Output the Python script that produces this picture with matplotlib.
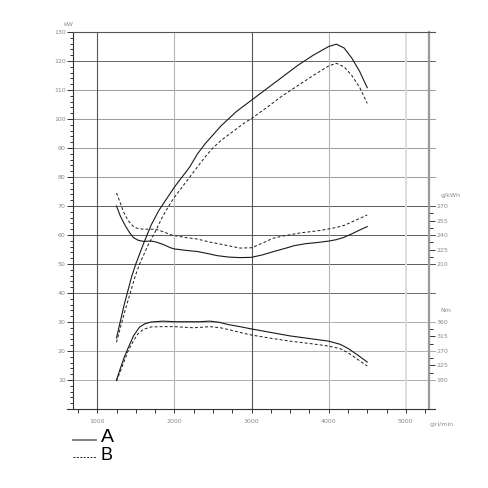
import matplotlib
matplotlib.use("Agg")
import matplotlib.pyplot as plt
from matplotlib.lines import Line2D
import numpy as np

# ---- data (left axis units, rpm) ----
power_rpm_a = [1250, 1350, 1450, 1500, 1600, 1700, 1800, 1900, 2000, 2100, 2200, 2300, 2400,
               2500, 2600, 2700, 2800, 2900, 3000, 3200, 3400, 3600, 3800, 4000, 4100, 4200,
               4300, 4400, 4500]
power_a = [24.5, 36, 46, 50, 57, 63.5, 68.5, 72.5, 76.5, 80, 83.5, 88, 91.5,
           94.5, 97.5, 100, 102.5, 104.5, 106.5, 110.5, 114.5, 118.5, 122, 125, 125.8, 124.5,
           121, 116.5, 110.8]

power_rpm_b = [1250, 1350, 1450, 1500, 1550, 1650, 1750, 1850, 1950, 2000, 2100, 2200, 2300,
               2400, 2500, 2600, 2700, 2800, 2900, 3000, 3200, 3400, 3600, 3800, 4000, 4100,
               4200, 4300, 4400, 4500]
power_b = [23, 33, 42, 46.4, 50, 56, 61, 66.5, 71, 73, 76.5, 80, 83.5,
           87, 90, 92.5, 94.5, 96.5, 98.5, 100.2, 104, 108, 111.5, 115, 118.3, 119.2,
           118, 115, 111, 105.4]

bsfc_rpm_a = [1250, 1300, 1360, 1420, 1470, 1530, 1600, 1700, 1760, 1850, 1950, 2000, 2150,
              2300, 2450, 2550, 2700, 2850, 3000, 3150, 3300, 3450, 3550, 3700, 3850, 4000,
              4100, 4200, 4300, 4400, 4500]
bsfc_a = [70, 66.5, 63.4, 60.8, 59.1, 58.2, 57.8, 57.9, 57.6, 56.8, 55.6, 55.2, 54.7,
          54.3, 53.5, 52.9, 52.4, 52.2, 52.3, 53.2, 54.4, 55.5, 56.3, 57.0, 57.4, 57.9,
          58.4, 59.2, 60.4, 61.7, 62.9]

bsfc_rpm_b = [1250, 1300, 1340, 1400, 1470, 1530, 1600, 1750, 1850, 1950, 2000, 2150, 2300,
              2450, 2550, 2700, 2850, 3000, 3150, 3280, 3400, 3500, 3650, 3750, 3900, 4000,
              4100, 4200, 4300, 4400, 4500]
bsfc_b = [74.5, 71, 68, 65, 62.9, 62.2, 62.0, 62.0, 61.2, 60.1, 59.8, 59.1, 58.6,
          57.6, 57.1, 56.3, 55.5, 55.6, 57.3, 58.9, 59.6, 60.1, 60.8, 61.1, 61.6, 62.1,
          62.6, 63.3, 64.5, 65.7, 66.9]

torque_rpm_a = [1250, 1300, 1350, 1400, 1470, 1550, 1620, 1700, 1850, 2000, 2200, 2330, 2460,
                2580, 2700, 2850, 3000, 3250, 3500, 3750, 4000, 4150, 4250, 4350, 4500]
torque_a = [10, 14, 17.8, 21, 25.2, 28.3, 29.4, 30.0, 30.3, 30.1, 30.1, 30.1, 30.3,
            29.9, 29.1, 28.4, 27.6, 26.4, 25.2, 24.3, 23.4, 22.3, 20.9, 19.1, 16.2]

torque_rpm_b = [1250, 1300, 1350, 1400, 1470, 1530, 1600, 1700, 1850, 2000, 2250, 2460, 2600,
                2700, 2850, 3000, 3250, 3500, 3750, 4000, 4150, 4250, 4350, 4500]
torque_b = [9.6, 13, 16.5, 20, 23.5, 26.0, 27.5, 28.3, 28.4, 28.4, 28.0, 28.4, 28.0,
            27.4, 26.4, 25.5, 24.4, 23.4, 22.6, 21.7, 20.8, 19.4, 17.6, 14.8]

kw_ticks = list(range(10, 140, 10))
rpm_ticks = [1000, 2000, 3000, 4000, 5000]
gkwh_ticks = [210, 225, 240, 255, 270]
nm_ticks = [180, 225, 270, 315, 360]
series_labels = ["A", "B"]

# ---- figure ----
fig = plt.figure(figsize=(4.88, 4.88), dpi=100)
ax = fig.add_axes([0.1502, 0.1619, 0.7288, 0.7725])
ax.set_xlim(690, 5300)
ax.set_ylim(0, 130)

lbl_col = "#8a8a8a"
fs = 4.5

# grid
hcol = {130: "#555555", 120: "#666666", 110: "#9a9a9a", 100: "#9a9a9a", 90: "#9a9a9a",
        80: "#9a9a9a", 70: "#5a5a5a", 60: "#5a5a5a", 50: "#5a5a5a", 40: "#6a6a6a",
        30: "#b0b0b0", 20: "#b0b0b0", 10: "#b0b0b0"}
for v in kw_ticks:
    ax.axhline(v, xmin=0, xmax=1.017, color=hcol[v], lw=0.7, clip_on=False, zorder=1)
vcol = {1000: "#555555", 2000: "#b5b5b5", 3000: "#555555", 4000: "#b5b5b5", 5000: "#dddddd"}
for v in rpm_ticks:
    ax.axvline(v, color=vcol[v], lw=0.8 if v != 5000 else 1.4, zorder=1)

# curves
curve_col = "#1a1a1a"
dash = (0, (3, 2.2))
ax.plot(power_rpm_a, power_a, color=curve_col, lw=0.8, zorder=3)
ax.plot(power_rpm_b, power_b, color=curve_col, lw=0.7, ls=dash, zorder=3)
ax.plot(bsfc_rpm_a, bsfc_a, color=curve_col, lw=0.8, zorder=3)
ax.plot(bsfc_rpm_b, bsfc_b, color=curve_col, lw=0.7, ls=dash, zorder=3)
ax.plot(torque_rpm_a, torque_a, color=curve_col, lw=0.8, zorder=3)
ax.plot(torque_rpm_b, torque_b, color=curve_col, lw=0.7, ls=dash, zorder=3)

# spines
ax.spines["left"].set_color("#333333")
ax.spines["left"].set_linewidth(0.8)
ax.spines["bottom"].set_color("#333333")
ax.spines["bottom"].set_linewidth(0.8)
ax.spines["bottom"].set_bounds(610, 5380)
ax.spines["top"].set_color("#555555")
ax.spines["top"].set_linewidth(0.8)
ax.spines["top"].set_bounds(690, 5380)
ax.spines["right"].set_color("#9a9a9a")
ax.spines["right"].set_linewidth(1.6)

# left ticks (kW)
ax.set_yticks(kw_ticks)
ax.set_yticklabels([str(v) for v in kw_ticks])
ax.set_yticks(np.arange(2, 130, 2), minor=True)
ax.tick_params(axis="y", which="major", direction="out", length=4, width=0.7,
               colors="#333333", labelcolor=lbl_col, labelsize=fs, pad=1.5)
ax.tick_params(axis="y", which="minor", direction="out", length=2.5, width=0.7, colors="#333333")

# bottom ticks (rpm)
ax.set_xticks(rpm_ticks)
ax.set_xticklabels([str(v) for v in rpm_ticks])
ax.set_xticks(np.arange(750, 5300, 250), minor=True)
ax.tick_params(axis="x", which="both", direction="out", length=3, width=0.7,
               colors="#333333", labelcolor=lbl_col, labelsize=fs, pad=4)

# right axes: g/kWh and Nm
sec_g = ax.secondary_yaxis("right", functions=(lambda y: 3 * y + 60, lambda g: (g - 60) / 3))
sec_g.set_yticks(gkwh_ticks)
sec_g.set_yticks([217.5, 232.5, 247.5, 262.5], minor=True)
sec_g.spines["right"].set_visible(False)
sec_g.tick_params(which="major", direction="out", length=4, width=0.7, colors="#333333",
                  labelcolor=lbl_col, labelsize=fs, pad=1.5)
sec_g.tick_params(which="minor", direction="out", length=3, width=0.7, colors="#333333")

sec_n = ax.secondary_yaxis("right", functions=(lambda y: 9 * y + 90, lambda n: (n - 90) / 9))
sec_n.set_yticks(nm_ticks)
sec_n.set_yticks([202.5, 247.5, 292.5, 337.5], minor=True)
sec_n.spines["right"].set_visible(False)
sec_n.tick_params(which="major", direction="out", length=4, width=0.7, colors="#333333",
                  labelcolor=lbl_col, labelsize=fs, pad=1.5)
sec_n.tick_params(which="minor", direction="out", length=3, width=0.7, colors="#333333")

# unit labels
ax.text(-0.0135, 1.021, "kW", transform=ax.transAxes, fontsize=fs, color=lbl_col,
        ha="center", va="center")
ax.text(1.033, 0.5676, "g/kWh", transform=ax.transAxes, fontsize=fs, color=lbl_col,
        ha="left", va="center")
ax.text(1.033, 0.26, "Nm", transform=ax.transAxes, fontsize=fs, color=lbl_col,
        ha="left", va="center")
ax.text(1.001, -0.0406, "giri/min", transform=ax.transAxes, fontsize=fs, color=lbl_col,
        ha="left", va="center")

# legend (drawn by hand, as in the source sheet)
fig.add_artist(Line2D([73 / 488, 96 / 488], [1 - 440 / 488, 1 - 440 / 488],
                      transform=fig.transFigure, color="#777777", lw=1.3))
fig.add_artist(Line2D([73 / 488, 96 / 488], [1 - 456.5 / 488, 1 - 456.5 / 488],
                      transform=fig.transFigure, color="#222222", lw=0.7, ls=(0, (2, 1.5))))
fig.text(101 / 488, 1 - 442 / 488, series_labels[0], fontsize=14, family="Liberation Sans",
         ha="left", va="baseline", color="black")
fig.text(101 / 488, 1 - 459.5 / 488, series_labels[1], fontsize=13, family="Liberation Sans",
         ha="left", va="baseline", color="black")

fig.savefig("out.png", dpi=100, facecolor="white")
